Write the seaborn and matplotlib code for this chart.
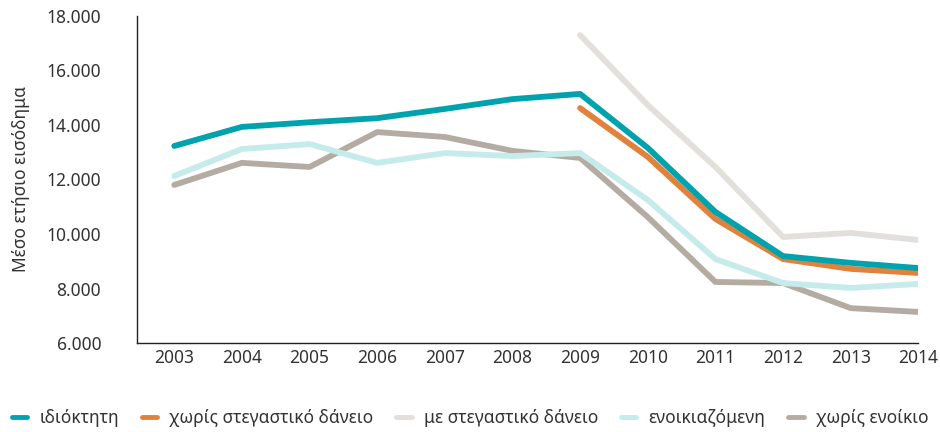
import numpy as np
import pandas as pd
import matplotlib
matplotlib.use("Agg")
import matplotlib.pyplot as plt
from matplotlib.lines import Line2D
import seaborn as sns

years = list(range(2003, 2015))
nan = np.nan

idioktiti = [13230, 13930, 14100, 14250, 14590, 14950, 15140, 13160, 10810, 9190, 8940, 8750]
xoris_daneio = [nan, nan, nan, nan, nan, nan, 14620, 12830, 10550, 9080, 8720, 8570]
me_daneio = [nan, nan, nan, nan, nan, nan, 17300, 14730, 12460, 9890, 10040, 9780]
enoikiazomeni = [12130, 13120, 13300, 12610, 12970, 12860, 12970, 11250, 9080, 8200, 8020, 8170]
xoris_enoikio = [11800, 12610, 12460, 13740, 13560, 13050, 12790, 10620, 8240, 8200, 7280, 7140]

names = ["ιδιόκτητη", "χωρίς στεγαστικό δάνειο", "με στεγαστικό δάνειο",
         "ενοικιαζόμενη", "χωρίς ενοίκιο"]
colors = ["#00A3AD", "#E0823C", "#E3DFDB", "#C5EBEA", "#B4ACA3"]
yticks = [6000, 8000, 10000, 12000, 14000, 16000, 18000]
ytick_labels = ["6.000", "8.000", "10.000", "12.000", "14.000", "16.000", "18.000"]

series = [idioktiti, xoris_daneio, me_daneio, enoikiazomeni, xoris_enoikio]
df = pd.DataFrame({"year": years})
for n, s in zip(names, series):
    df[n] = s
long = df.melt(id_vars="year", var_name="group", value_name="value").dropna()

sns.set_style("white")
plt.rcParams["font.family"] = ["Noto Sans", "DejaVu Sans"]

fig = plt.figure(figsize=(9.4, 4.32), dpi=100)
ax = fig.add_axes([0.146, 0.206, 0.831, 0.757])

# teal drawn last so it sits on top
draw_order = names[::-1]
sns.lineplot(data=long, x="year", y="value", hue="group", hue_order=draw_order,
             palette=dict(zip(names, colors)), linewidth=4.2, legend=False, ax=ax)

ax.set_xlim(2003 - 0.547, 2014)
ax.set_ylim(6000, 18000)
ax.set_xticks(years)
ax.set_xticklabels([str(y) for y in years], fontsize=12.5, color="#333333")
ax.set_yticks(yticks)
ax.set_yticklabels(ytick_labels, fontsize=12.5, color="#333333")
ax.set_xlabel("")
ax.set_ylabel("Μέσο ετήσιο εισόδημα", fontsize=12.5, color="#333333", labelpad=12)
ax.tick_params(axis="both", direction="in", length=5, width=1, color="#333333")
ax.tick_params(axis="x", pad=4)
ax.tick_params(axis="y", pad=26)
for side in ["top", "right"]:
    ax.spines[side].set_visible(False)
for side in ["left", "bottom"]:
    ax.spines[side].set_color("#222222")
    ax.spines[side].set_linewidth(1)

handles = [Line2D([0], [0], color=c, lw=3.5) for c in colors]
fig.legend(handles, names, loc="lower center", bbox_to_anchor=(0.5, -0.025), ncol=5,
           frameon=False, fontsize=12.5, handlelength=0.9, handletextpad=0.7,
           columnspacing=1.3, labelcolor="#333333")

fig.savefig("out.png", dpi=100)
